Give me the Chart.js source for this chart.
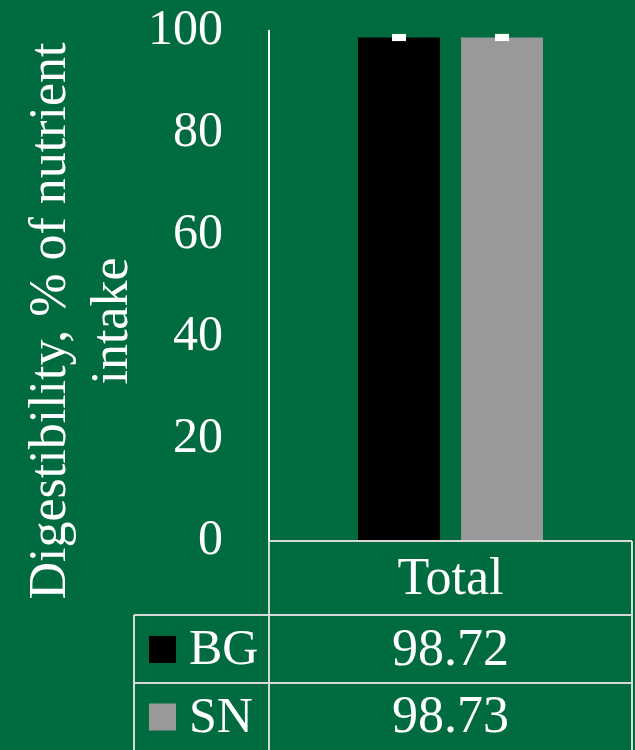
<!DOCTYPE html>
<html>
<head>
<meta charset="utf-8">
<title>Digestibility</title>
<script src="https://cdn.jsdelivr.net/npm/chart.js@4"></script>
<style>
  html, body { margin: 0; padding: 0; background: #006b3f; }
  #wrap { width: 635px; height: 750px; position: relative; }
</style>
</head>
<body>
<div id="wrap"><canvas id="chart" width="635" height="750"></canvas></div>
<script>
// Categories, series and values
const categories = ['Total'];
const seriesNames = ['BG', 'SN'];
const bgValues = [98.72];
const snValues = [98.73];
const bgErrors = [0.7];
const snErrors = [0.7];
const yMin = 0;
const yMax = 100;
const yStep = 20;
const axisTitle = ['Digestibility, % of nutrient', 'intake'];

const GREEN = '#006b3f';
const WHITE = '#ffffff';
const LINE = '#d9d9d9';
const FONT = "'Liberation Serif', 'Times New Roman', serif";
const TICK_SIZE = 50;
const TEXT_SIZE = 52;

const seriesColors = ['#000000', '#999999'];
const seriesValues = [bgValues, snValues];
const seriesErrors = [bgErrors, snErrors];

// Paint the page background onto the canvas
const backgroundPlugin = {
  id: 'background',
  beforeDraw(chart) {
    const ctx = chart.ctx;
    ctx.save();
    ctx.fillStyle = GREEN;
    ctx.fillRect(0, 0, chart.width, chart.height);
    ctx.restore();
  }
};

// White error bars drawn on top of each bar
const errorBarPlugin = {
  id: 'errorBars',
  afterDatasetsDraw(chart) {
    const ctx = chart.ctx;
    const y = chart.scales.y;
    ctx.save();
    ctx.fillStyle = WHITE;
    chart.data.datasets.forEach((ds, di) => {
      const meta = chart.getDatasetMeta(di);
      meta.data.forEach((bar, i) => {
        const v = ds.data[i];
        const e = seriesErrors[di][i];
        const top = y.getPixelForValue(v + e);
        const bottom = y.getPixelForValue(v - e);
        const capW = 14;
        ctx.fillRect(bar.x - capW / 2, top, capW, bottom - top);
      });
    });
    ctx.restore();
  }
};

// Rotated two-line y-axis title
const axisTitlePlugin = {
  id: 'axisTitle',
  afterDraw(chart) {
    const ctx = chart.ctx;
    const area = chart.chartArea;
    const cy = (area.top + area.bottom) / 2 + 35;
    const baselines = [65, 127];
    ctx.save();
    ctx.fillStyle = WHITE;
    ctx.font = TEXT_SIZE + 'px ' + FONT;
    ctx.textAlign = 'center';
    ctx.textBaseline = 'alphabetic';
    axisTitle.forEach((line, i) => {
      ctx.save();
      ctx.translate(baselines[i], cy);
      ctx.rotate(-Math.PI / 2);
      ctx.fillText(line, 0, 0);
      ctx.restore();
    });
    ctx.restore();
  }
};

// Data table under the plot: category row, then one row per series
const dataTablePlugin = {
  id: 'dataTable',
  afterDraw(chart) {
    const ctx = chart.ctx;
    const area = chart.chartArea;
    const xs = chart.scales.x;
    const left = area.left;
    const right = area.right;
    const legendLeft = 134;
    const rowTops = [area.bottom, area.bottom + 74, area.bottom + 142];
    const tableBottom = chart.height;

    ctx.save();
    ctx.strokeStyle = LINE;
    ctx.lineWidth = 2;
    ctx.beginPath();
    // category row
    ctx.moveTo(left, rowTops[0]); ctx.lineTo(right, rowTops[0]);
    // series rows
    ctx.moveTo(legendLeft, rowTops[1]); ctx.lineTo(right, rowTops[1]);
    ctx.moveTo(legendLeft, rowTops[2]); ctx.lineTo(right, rowTops[2]);
    // verticals
    ctx.moveTo(left, rowTops[0]); ctx.lineTo(left, tableBottom);
    ctx.moveTo(right, rowTops[0]); ctx.lineTo(right, tableBottom);
    ctx.moveTo(legendLeft, rowTops[1]); ctx.lineTo(legendLeft, tableBottom);
    ctx.stroke();

    ctx.fillStyle = WHITE;
    ctx.font = TEXT_SIZE + 'px ' + FONT;
    ctx.textBaseline = 'middle';
    ctx.textAlign = 'center';

    categories.forEach((cat, i) => {
      const cx = xs.getPixelForValue(i);
      ctx.fillText(cat, cx, (rowTops[0] + rowTops[1]) / 2 + 2);
    });

    const rowBottoms = [rowTops[2], tableBottom];
    seriesNames.forEach((name, si) => {
      const top = rowTops[si + 1];
      const mid = (top + rowBottoms[si]) / 2 + 2;
      // legend key
      ctx.fillStyle = seriesColors[si];
      ctx.fillRect(legendLeft + 15, mid - 15, 27, 27);
      ctx.fillStyle = WHITE;
      ctx.textAlign = 'left';
      ctx.font = TICK_SIZE + 'px ' + FONT;
      ctx.fillText(name, legendLeft + 55, mid);
      ctx.font = TEXT_SIZE + 'px ' + FONT;
      ctx.textAlign = 'center';
      categories.forEach((cat, i) => {
        const cx = xs.getPixelForValue(i);
        ctx.fillText(seriesValues[si][i].toFixed(2), cx, mid);
      });
    });
    ctx.restore();
  }
};

new Chart(document.getElementById('chart'), {
  type: 'bar',
  data: {
    labels: categories,
    datasets: seriesNames.map((name, si) => ({
      label: name,
      data: seriesValues[si],
      backgroundColor: seriesColors[si],
      borderWidth: 0,
      categoryPercentage: 0.5675,
      barPercentage: 0.796
    }))
  },
  options: {
    responsive: false,
    animation: false,
    devicePixelRatio: 1,
    layout: { padding: { left: 0, right: 3, top: 31, bottom: 209 } },
    plugins: {
      legend: { display: false },
      tooltip: { enabled: false },
      title: { display: false }
    },
    scales: {
      x: {
        display: false
      },
      y: {
        min: yMin,
        max: yMax,
        afterFit(scale) {
          scale.width = 269;
          scale.paddingTop = 0;
          scale.paddingBottom = 0;
        },
        ticks: {
          stepSize: yStep,
          color: WHITE,
          padding: 46,
          font: { family: FONT, size: TICK_SIZE }
        },
        grid: { display: false, drawTicks: false },
        border: { display: true, color: WHITE, width: 2 }
      }
    }
  },
  plugins: [backgroundPlugin, errorBarPlugin, axisTitlePlugin, dataTablePlugin]
});
</script>
</body>
</html>
